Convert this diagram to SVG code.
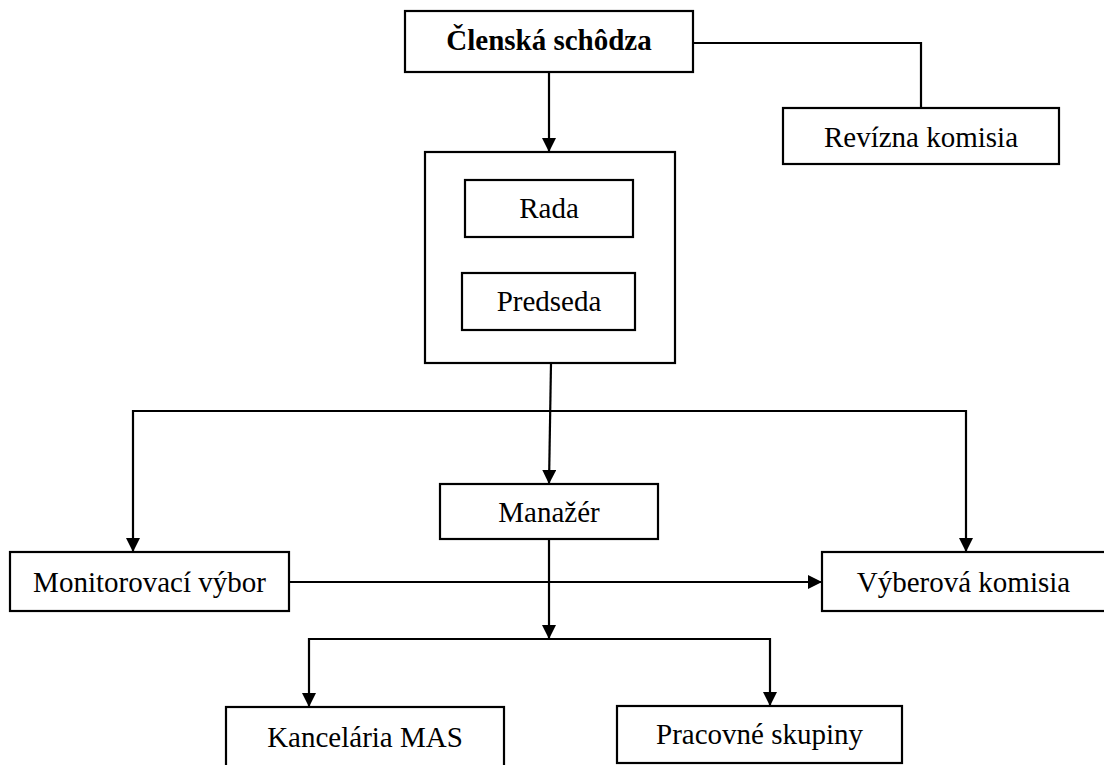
<svg xmlns="http://www.w3.org/2000/svg" width="1104" height="765" viewBox="0 0 1104 765">
<style>
.box{fill:#fff;stroke:#000;stroke-width:2.2}
.lbl{font-family:"Liberation Serif","Times New Roman",serif;font-size:29px;fill:#000;text-anchor:middle}
.bold{font-weight:bold}
.con{fill:none;stroke:#000;stroke-width:2.2}
.arr{marker-end:url(#ah)}
</style>
<defs>
<marker id="ah" markerUnits="userSpaceOnUse" markerWidth="14" markerHeight="16" refX="14" refY="7" orient="auto">
<path d="M0,0 L14,7 L0,14 Z" fill="#000"/>
</marker>
</defs>
<rect width="1104" height="765" fill="#fff"/>
<g id="connectors">
<path class="con arr" d="M549,72 V152"/>
<path class="con" d="M689,43 H921 V108"/>
<path class="con arr" d="M551,363 L549,484"/>
<path class="con arr" d="M549,411 H133 V552"/>
<path class="con arr" d="M549,411 H966 V552"/>
<path class="con arr" d="M289,582 H822"/>
<path class="con arr" d="M549,539 V639"/>
<path class="con arr" d="M549,639 H309 V707"/>
<path class="con arr" d="M549,639 H770 V706"/>
</g>
<g id="clenska-schodza">
<rect class="box" x="405" y="11" width="288" height="61"/>
<text class="lbl bold" x="549" y="50">Členská schôdza</text>
</g>
<g id="revizna-komisia">
<rect class="box" x="783" y="108" width="276" height="56"/>
<text class="lbl" x="921" y="147">Revízna komisia</text>
</g>
<g id="vedenie">
<rect class="box" x="425" y="152" width="250" height="211"/>
</g>
<g id="rada">
<rect class="box" x="465" y="180" width="168" height="57"/>
<text class="lbl" x="549" y="218">Rada</text>
</g>
<g id="predseda">
<rect class="box" x="462" y="273" width="173" height="57"/>
<text class="lbl" x="549" y="311">Predseda</text>
</g>
<g id="manazer">
<rect class="box" x="440" y="484" width="218" height="55"/>
<text class="lbl" x="549" y="522">Manažér</text>
</g>
<g id="monitorovaci-vybor">
<rect class="box" x="10" y="552" width="279" height="59"/>
<text class="lbl" x="149.5" y="592">Monitorovací výbor</text>
</g>
<g id="vyberova-komisia">
<rect class="box" x="822" y="552" width="290" height="59"/>
<text class="lbl" x="963.5" y="592">Výberová komisia</text>
</g>
<g id="kancelaria-mas">
<rect class="box" x="226" y="707" width="278" height="70"/>
<text class="lbl" x="365" y="747">Kancelária MAS</text>
</g>
<g id="pracovne-skupiny">
<rect class="box" x="617" y="706" width="285" height="57"/>
<text class="lbl" x="759.5" y="744">Pracovné skupiny</text>
</g>
</svg>
